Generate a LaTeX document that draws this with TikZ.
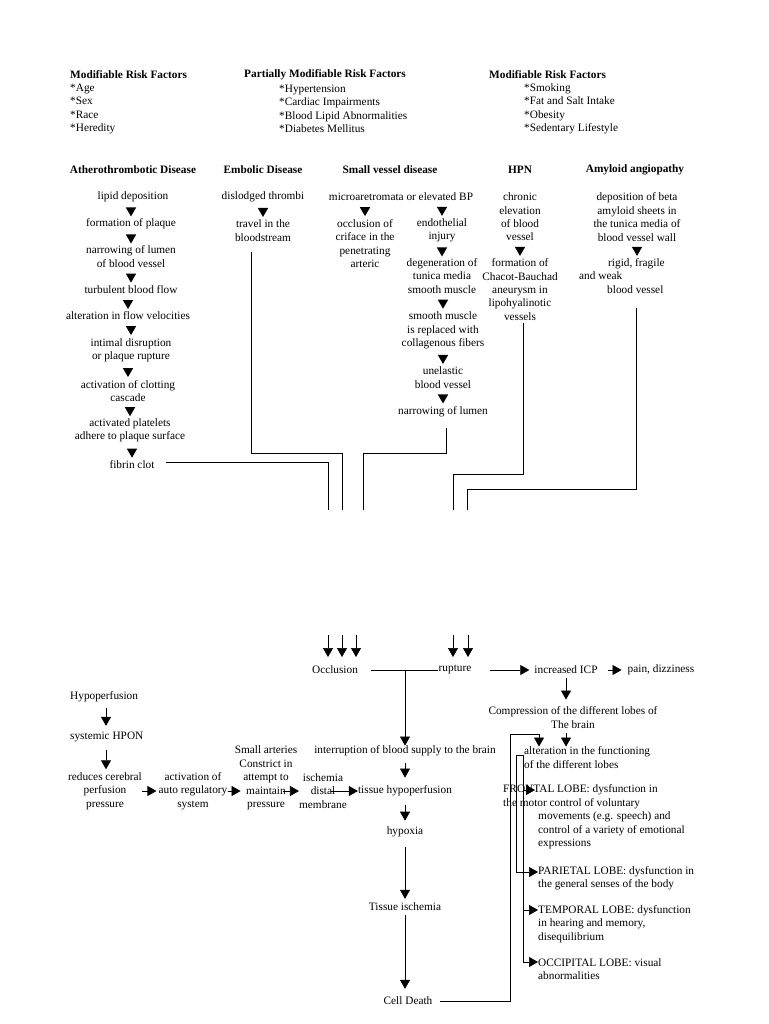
\documentclass[tikz,border=0pt]{standalone}
\usepackage{fontspec}
\setmainfont{Liberation Serif}
\usetikzlibrary{arrows.meta,shapes.geometric}
\newcommand\fs{\fontsize{11.3}{13.4}\selectfont}
\newcommand\tri[2]{\path (#1.south -| #2) -- (#2.north) node[midway,dtri]{};}
\tikzset{
  tx/.style={inner sep=0pt, align=center, font=\fs},
  hb/.style={inner sep=0pt, align=center, font=\fs\bfseries},
  dtri/.style={regular polygon, regular polygon sides=3, shape border rotate=180, fill=black, draw=none, inner sep=0pt, minimum size=12pt},
  ln/.style={line width=0.7pt},
  arr/.style={line width=0.7pt, -{Triangle[width=10pt,length=9pt]}},
}
\begin{document}
\begin{tikzpicture}[x=1pt,y=-1pt]
\useasboundingbox (0,0) rectangle (768,1024);
\fill[white] (0,0) rectangle (768,1024);

% ---------- risk factors ----------
\node[hb,anchor=west] (h1) at (70,75) {Modifiable Risk Factors};
\node[tx,anchor=west,align=left] (l1) at (70,109) {*Age\\*Sex\\*Race\\*Heredity};
\node[hb,anchor=west] (h2) at (244,75) {Partially Modifiable Risk Factors};
\node[tx,anchor=west,align=left] (l2) at (279,109) {*Hypertension\\*Cardiac Impairments\\*Blood Lipid Abnormalities\\*Diabetes Mellitus};
\node[hb,anchor=west] (h3) at (489,75) {Modifiable Risk Factors};
\node[tx,anchor=west,align=left] (l3) at (524,109) {*Smoking\\*Fat and Salt Intake\\*Obesity\\*Sedentary Lifestyle};

% ---------- disease headers ----------
\node[hb] (dA) at (133,170) {Atherothrombotic Disease};
\node[hb] (dE) at (263,170) {Embolic Disease};
\node[hb] (dS) at (390,170) {Small vessel disease};
\node[hb] (dH) at (520,170) {HPN};
\node[hb] (dM) at (635,170) {Amyloid angiopathy};

% ---------- atherothrombotic ----------
\node[tx] (a1) at (133,197) {lipid deposition};
\node[tx] (a2) at (131,224) {formation of plaque};
\node[tx] (a3) at (131,256.5) {narrowing of lumen\\of blood vessel};
\node[tx] (a4) at (131,290) {turbulent blood flow};
\node[tx] (a5) at (128,316) {alteration in flow velocities};
\node[tx] (a6) at (131,350) {intimal disruption\\or plaque rupture};
\node[tx] (a7) at (128,391) {activation of clotting\\cascade};
\node[tx] (a8) at (130,430.5) {activated platelets\\adhere to plaque surface};
\node[tx] (a9) at (132,465) {fibrin clot};
\tri{a1}{a2}\tri{a2}{a3}\tri{a3}{a4}\tri{a4}{a5}\tri{a5}{a6}\tri{a6}{a7}\tri{a7}{a8}\tri{a8}{a9}

% ---------- embolic ----------
\node[tx] (e1) at (263,197) {dislodged thrombi};
\node[tx] (e2) at (263,230.5) {travel in the\\bloodstream};
\tri{e1}{e2}

% ---------- small vessel ----------
\node[tx] (s0) at (401,197) {microaretromata or elevated BP};
\node[tx] (s1) at (365,243.5) {occlusion of\\criface in the\\penetrating\\arteric};
\node[tx] (s2) at (442,230.5) {endothelial\\injury};
\node[tx] (s3) at (442,276) {degeneration of\\tunica media\\smooth muscle};
\node[tx] (s4) at (443,330.5) {smooth muscle\\is replaced with\\collagenous fibers};
\node[tx] (s5) at (443,377.5) {unelastic\\blood vessel};
\node[tx] (s6) at (443,412) {narrowing of lumen};
\tri{s0}{s1}\tri{s0}{s2}\tri{s2}{s3}\tri{s3}{s4}\tri{s4}{s5}\tri{s5}{s6}

% ---------- HPN ----------
\node[tx] (p1) at (520,217) {chronic\\elevation\\of blood\\vessel};
\node[tx] (p2) at (520,289.5) {formation of\\Chacot-Bauchad\\aneurysm in\\lipohyalinotic\\vessels};
\tri{p1}{p2}

% ---------- amyloid ----------
\node[tx] (m1) at (637,217) {deposition of beta\\amyloid sheets in\\the tunica media of\\blood vessel wall};
\node[tx,anchor=west,align=left] (m2) at (579,276) {\hspace*{29pt}rigid, fragile\\and weak\\\hspace*{28pt}blood vessel};
\path (m1.south) -- (m1.south |- m2.north) node[midway,dtri]{};

% ---------- converging lines (upper part) ----------
\coordinate (eS) at (251,252);
\coordinate (eE) at (342,510);
\draw[ln] (eS) |- (342,453) -- (eE);
\coordinate (aE) at (328,510);
\draw[ln] ([xshift=11pt,yshift=3pt]a9.east) -| (aE);
\coordinate (sS) at (446,428);
\coordinate (sE) at (363,510);
\draw[ln] (sS) |- (363,453) -- (sE);
\coordinate (pS) at (523,323);
\coordinate (pE) at (453,510);
\draw[ln] (pS) |- (453,474) -- (pE);
\coordinate (mS) at (636,308);
\coordinate (mE) at (467,510);
\draw[ln] (mS) |- (467,489) -- (mE);

% ---------- lower part ----------
\node[tx] (oc) at (335,670) {Occlusion};
\node[tx] (ru) at (455,670) {rupture};
\node[tx] (ic) at (566,670) {increased ICP};
\node[tx] (pn) at (661,670) {pain, dizziness};
\node[tx] (cp) at (573,717.5) {Compression of the different lobes of\\The brain};
\node[tx,anchor=west,align=left] (al) at (524,757.5) {alteration in the functioning\\of the different lobes};

\foreach \xx/\nm in {328/o1,342/o2,356/o3,453/r1,468/r2}{
  \coordinate (\nm) at (\xx,635);
}
\draw[arr] (o1) -- (o1 |- 0,657);
\draw[arr] (o2) -- (o2 |- 0,657);
\draw[arr] (o3) -- (o3 |- 0,657);
\draw[arr] (r1) -- (r1 |- 0,657);
\draw[arr] (r2) -- (r2 |- 0,657);

\draw[ln] ([xshift=13pt]oc.east) -- (ru.west);
\draw[arr, shorten <=18pt, shorten >=5pt] (ru.east) -- (ic.west);
\draw[arr, shorten <=10pt, shorten >=6pt] (ic.east) -- (pn.west);
\draw[arr, shorten <=4pt, shorten >=7pt] (ic.south) -- (ic.south |- cp.north);
\draw[arr, shorten <=5pt] (cp.south -| ic) -- (ic |- al.north);

% left chain
\node[tx,anchor=west] (hp) at (70,697) {Hypoperfusion};
\node[tx,anchor=west] (sh) at (70,737) {systemic HPON};
\node[tx] (rc) at (105,791) {reduces cerebral\\perfusion\\pressure};
\node[tx] (ar) at (193,791) {activation of\\auto regulatory\\system};
\node[tx] (sa) at (266,778) {Small arteries\\Constrict in\\attempt to\\maintain\\pressure};
\node[tx] (is) at (323,791) {ischemia\\distal\\membrane};
\node[tx] (th) at (405,791) {tissue hypoperfusion};
\node[tx] (ib) at (405,751) {interruption of blood supply to the brain};
\node[tx] (hx) at (405,832) {hypoxia};
\node[tx] (ti) at (405,907) {Tissue ischemia};
\node[tx] (cd) at (408,1001) {Cell Death};

\draw[arr, shorten <=6pt, shorten >=6pt] (hp.south -| 106,0) -- (sh.north -| 106,0);
\draw[arr, shorten <=8pt, shorten >=3pt] (sh.south -| 106,0) -- (rc.north -| 106,0);
\draw[arr, shorten >=2pt] (rc.east) -- (ar.west);
\draw[arr, shorten >=-6pt] (ar.east) -- (ar.east -| sa.west);
\draw[arr] ([xshift=-14pt]sa.east |- is.west) -- (is.west);
\draw[arr] ([xshift=-16pt]is.east) -- (th.west);
\draw[arr] (ib |- oc) -- (ib.north);
\draw[arr, shorten <=7pt, shorten >=8pt] (ib.south) -- (th.north);
\draw[arr, shorten <=9pt, shorten >=6pt] (th.south) -- (hx.north);
\draw[arr, shorten <=10pt, shorten >=4pt] (hx.south) -- (ti.north);
\draw[arr, shorten <=4pt, shorten >=8pt] (ti.south) -- (ti.south |- cd.north);

% Cell death feedback to alteration
\coordinate (bx) at (510,734);
\draw[arr] ([xshift=7pt]cd.east) -| (bx) -| ([xshift=15pt]al.north west);

% lobes
\node[tx,anchor=west,align=left] (fr) at (503,817) {FRONTAL LOBE: dysfunction in\\the motor control of voluntary\\\hspace*{35pt}movements (e.g. speech) and\\\hspace*{35pt}control of a variety of emotional\\\hspace*{35pt}expressions};
\node[tx,anchor=west,align=left] (pa) at (538,878.5) {PARIETAL LOBE: dysfunction in\\the general senses of the body};
\node[tx,anchor=west,align=left] (te) at (538,924) {TEMPORAL LOBE: dysfunction\\in hearing and memory,\\disequilibrium};
\node[tx,anchor=west,align=left] (oL) at (538,969) {OCCIPITAL LOBE: visual\\abnormalities};

\coordinate (bl) at (516,755);
\coordinate (br) at (523,755);
\draw[ln] (al.west |- bl) -- (bl);
\draw[arr] (bl) |- (pa.west |- 0,872);
\draw[arr] (br) |- (oL.west |- 0,962);
\draw[arr] (br |- 0,910) -- (te.west |- 0,910);
\draw[arr] (br |- 0,790) -- ([xshift=32pt]fr.west |- 0,790);
\end{tikzpicture}
\end{document}
